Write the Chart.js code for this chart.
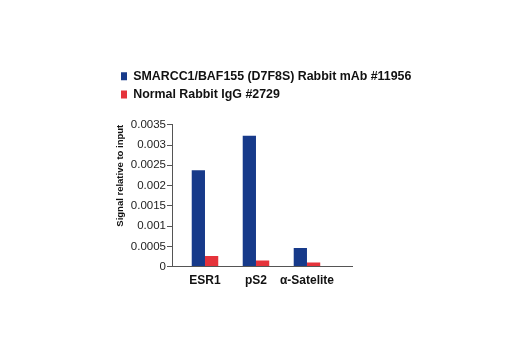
<!DOCTYPE html>
<html>
<head>
<meta charset="utf-8">
<script src="https://cdn.jsdelivr.net/npm/chart.js@4/dist/chart.umd.min.js"></script>
<style>
  html, body { margin: 0; padding: 0; background: #fff; }
  #wrap { width: 520px; height: 350px; position: relative; }
</style>
</head>
<body>
<div id="wrap"><canvas id="c" width="520" height="350"></canvas></div>
<script>
// ---- data ----
const categories = ['ESR1', 'pS2', '\u03b1-Satelite'];
const seriesNames = ['SMARCC1/BAF155 (D7F8S) Rabbit mAb #11956', 'Normal Rabbit IgG #2729'];
const smarccValues = [0.00238, 0.00323, 0.00046];
const iggValues = [0.00026, 0.00015, 0.00010];
const yTickValues = [0, 0.0005, 0.001, 0.0015, 0.002, 0.0025, 0.003, 0.0035];
const yTickLabels = ['0', '0.0005', '0.001', '0.0015', '0.002', '0.0025', '0.003', '0.0035'];
const yTitle = 'Signal relative to input';

const toPoints = vals => vals.map((v, i) => ({ x: i + 1, y: v }));

const boldFont = { family: "'Liberation Sans', Arial, sans-serif", weight: 'bold', size: 12 };
const legendFont = { family: "'Liberation Sans', Arial, sans-serif", weight: 'bold', size: 12.4 };

new Chart(document.getElementById('c'), {
  type: 'bar',
  data: {
    datasets: [
      { label: seriesNames[0], data: toPoints(smarccValues), backgroundColor: '#173a8a', borderWidth: 0 },
      { label: seriesNames[1], data: toPoints(iggValues), backgroundColor: '#e5333b', borderWidth: 0 }
    ]
  },
  options: {
    responsive: false,
    animation: false,
    events: [],
    categoryPercentage: 0.52,
    barPercentage: 1.0,
    layout: { padding: { left: 115, right: 100, top: 64, bottom: 55 } },
    plugins: {
      tooltip: { enabled: false },
      legend: {
        position: 'top',
        align: 'start',
        labels: {
          boxWidth: 6, boxHeight: 8, padding: 6,
          color: '#111',
          font: legendFont
        }
      },
      title: {
        display: true,
        text: '',
        weight: 500,
        padding: 0,
        font: { size: 10, lineHeight: '14px' }
      }
    },
    scales: {
      x: {
        type: 'linear',
        offset: false,
        min: 0.353,
        max: 3.883,
        afterBuildTicks: s => { s.ticks = categories.map((c, i) => ({ value: i + 1 })); },
        grid: { display: false, drawTicks: false, offset: false },
        border: { display: true, color: '#555', width: 1 },
        ticks: {
          padding: 7,
          color: '#111',
          font: boldFont,
          maxRotation: 0,
          autoSkip: false,
          callback: v => categories[Math.round(v) - 1] || ''
        }
      },
      y: {
        type: 'linear',
        min: 0,
        max: 0.0035,
        afterBuildTicks: s => { s.ticks = yTickValues.map(v => ({ value: v })); },
        afterFit: s => { s.width = 57; },
        grid: { display: true, drawOnChartArea: false, drawTicks: true, tickLength: 5, color: '#555' },
        border: { display: true, color: '#555', width: 1 },
        ticks: {
          padding: 1,
          color: '#222',
          font: { family: "'Liberation Sans', Arial, sans-serif", size: 11.5 },
          callback: (v, i) => yTickLabels[i]
        },
        title: {
          display: true,
          text: yTitle,
          align: 'end',
          color: '#111',
          padding: { top: 0, bottom: 0 },
          font: { family: "'Liberation Sans', Arial, sans-serif", weight: 'bold', size: 9.5 }
        }
      },
      yRight: {
        type: 'linear',
        position: 'right',
        display: true,
        afterFit: s => { s.width = 68; },
        grid: { display: false, drawTicks: false },
        border: { display: false },
        ticks: { display: false }
      }
    }
  }
});
</script>
</body>
</html>
